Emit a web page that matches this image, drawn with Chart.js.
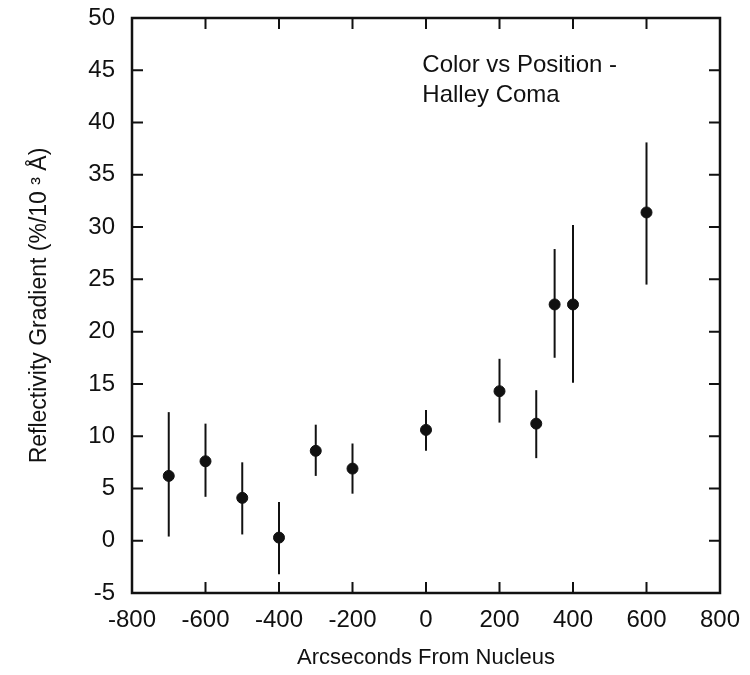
<!DOCTYPE html>
<html>
<head>
<meta charset="utf-8">
<script src="https://cdn.jsdelivr.net/npm/chart.js@4"></script>
<style>
body{margin:0;background:#fff;}
#wrap{width:750px;height:675px;}
</style>
</head>
<body>
<div id="wrap"><canvas id="myChart" width="750" height="675"></canvas></div>
<script>
// positions in arcsec, values in %/10^3 A
const position = [-700, -600, -500, -400, -300, -200, 0, 200, 300, 350, 400, 600];
const gradient = [6.2, 7.6, 4.1, 0.3, 8.6, 6.9, 10.6, 14.3, 11.2, 22.6, 22.6, 31.4];
const errHigh = [12.3, 11.2, 7.5, 3.7, 11.1, 9.3, 12.5, 17.4, 14.4, 27.9, 30.2, 38.1];
const errLow = [0.4, 4.2, 0.6, -3.2, 6.2, 4.5, 8.6, 11.3, 7.9, 17.5, 15.1, 24.5];
const xTicks = [-800, -600, -400, -200, 0, 200, 400, 600, 800];
const yTicks = [-5, 0, 5, 10, 15, 20, 25, 30, 35, 40, 45, 50];
const note = ['Color vs Position -', 'Halley Coma'];

const ink = '#111';
const font = 'Liberation Sans, Arial, Helvetica, sans-serif';

// error bars + box with inward ticks
const frame = {
    id: 'frame',
    beforeDatasetsDraw(chart){
        const c = chart.ctx, x = chart.scales.x, y = chart.scales.y;
        c.save();
        c.strokeStyle = ink;
        c.lineWidth = 2;
        for(let i=0;i<position.length;i++){
            const px = x.getPixelForValue(position[i]);
            c.beginPath();
            c.moveTo(px, y.getPixelForValue(errLow[i]));
            c.lineTo(px, y.getPixelForValue(errHigh[i]));
            c.stroke();
        }
        c.restore();
    },
    afterDraw(chart){
        const c = chart.ctx, a = chart.chartArea, x = chart.scales.x, y = chart.scales.y;
        const t = 11;
        c.save();
        c.strokeStyle = ink;
        c.lineWidth = 2.5;
        c.strokeRect(a.left, a.top, a.right-a.left, a.bottom-a.top);
        c.lineWidth = 2;
        c.beginPath();
        xTicks.forEach(v=>{
            const px = x.getPixelForValue(v);
            c.moveTo(px, a.bottom); c.lineTo(px, a.bottom-t);
            c.moveTo(px, a.top); c.lineTo(px, a.top+t);
        });
        yTicks.forEach(v=>{
            const py = y.getPixelForValue(v);
            c.moveTo(a.left, py); c.lineTo(a.left+t, py);
            c.moveTo(a.right, py); c.lineTo(a.right-t, py);
        });
        c.stroke();
        // annotation
        c.fillStyle = ink;
        c.font = '24px ' + font;
        c.textBaseline = 'middle';
        c.fillText(note[0], x.getPixelForValue(-10), y.getPixelForValue(45.5));
        c.fillText(note[1], x.getPixelForValue(-10), y.getPixelForValue(42.6));
        c.restore();
    }
};

window.myChart = new Chart(document.getElementById('myChart'), {
    type: 'scatter',
    data: {
        datasets: [{
            data: position.map((p,i)=>({x:p, y:gradient[i]})),
            backgroundColor: ink,
            borderColor: ink,
            pointRadius: 5.5,
            pointHoverRadius: 5.5
        }]
    },
    options: {
        responsive: false,
        animation: false,
        layout: {padding: {top: 18, right: 30, left: 0, bottom: 0}},
        plugins: {legend: {display: false}, tooltip: {enabled: false}},
        scales: {
            x: {
                min: -800, max: 800,
                afterBuildTicks: s => { s.ticks = xTicks.map(v=>({value:v})); },
                afterFit: s => { s.height = 82; },
                grid: {display: false},
                border: {display: false},
                ticks: {color: ink, padding: 5, font: {family: font, size: 24}, maxRotation: 0},
                title: {display: true, text: 'Arcseconds From Nucleus', color: ink, font: {family: font, size: 22}, padding: {top: 9}}
            },
            y: {
                min: -5, max: 50,
                afterBuildTicks: s => { s.ticks = yTicks.map(v=>({value:v})); },
                afterFit: s => { s.width = 132; s.paddingTop = 0; s.paddingBottom = 0; },
                grid: {display: false},
                border: {display: false},
                ticks: {color: ink, padding: 9, font: {family: font, size: 24}},
                title: {display: true, text: 'Reflectivity Gradient (%/10 \u00B3 \u00C5)', color: ink, font: {family: font, size: 23}, padding: {top: 26, bottom: 0}}
            }
        }
    },
    plugins: [frame]
});
</script>
</body>
</html>
